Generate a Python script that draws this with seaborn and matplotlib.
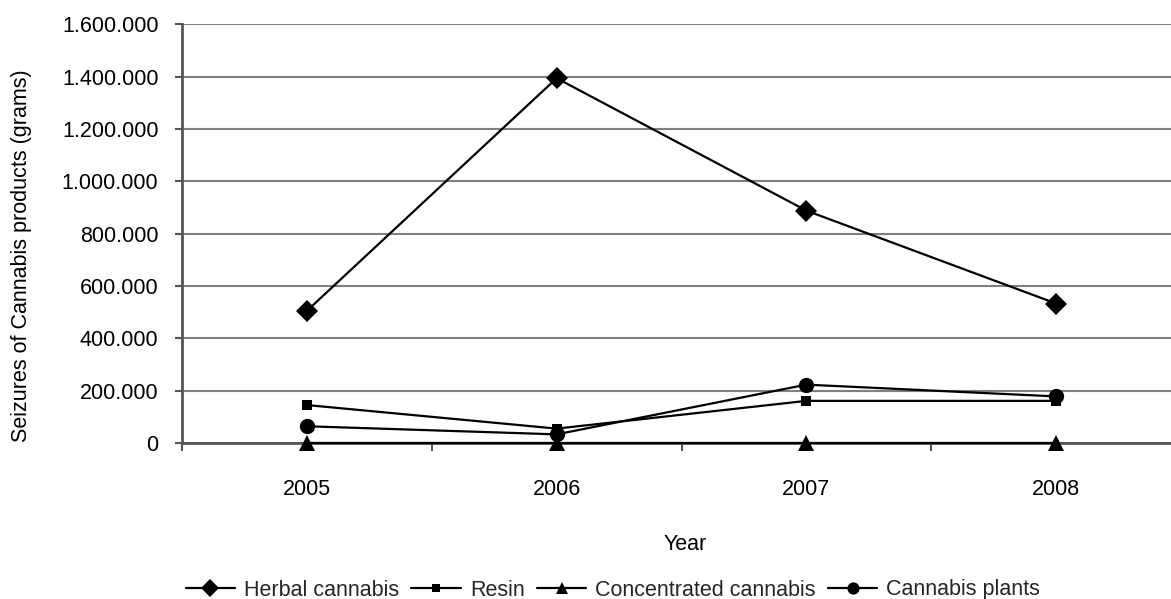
import matplotlib
matplotlib.use("Agg")
import matplotlib.pyplot as plt
import matplotlib.ticker as mticker
import seaborn as sns
import pandas as pd

# Seizures of cannabis products by year (grams)
years = [2005, 2006, 2007, 2008]
herbal_cannabis = [505000, 1394000, 888000, 533000]
resin = [145000, 55000, 161000, 161000]
concentrated_cannabis = [1000, 1000, 1000, 1000]
cannabis_plants = [64000, 33000, 223000, 178000]

series_names = ["Herbal cannabis", "Resin", "Concentrated cannabis", "Cannabis plants"]
series_values = [herbal_cannabis, resin, concentrated_cannabis, cannabis_plants]
y_ticks = [0, 200000, 400000, 600000, 800000, 1000000, 1200000, 1400000, 1600000]

df = pd.DataFrame(
    [(y, name, v) for name, vals in zip(series_names, series_values) for y, v in zip(years, vals)],
    columns=["Year", "Product", "Grams"],
)

sns.set_theme(style="white")
plt.rcParams["font.family"] = ["Liberation Sans", "DejaVu Sans"]
FS = 15.5

W, H = 1171, 599
fig = plt.figure(figsize=(W / 100, H / 100), dpi=100)
ax = fig.add_axes([182 / W, 1 - 443 / H, 999 / W, (443 - 24.3) / H])

markers = {"Herbal cannabis": "D", "Resin": "s", "Concentrated cannabis": "^", "Cannabis plants": "o"}
sizes = {"Herbal cannabis": 11.5, "Resin": 7.5, "Concentrated cannabis": 11, "Cannabis plants": 11}
palette = {n: "black" for n in series_names}

sns.lineplot(
    data=df, x="Year", y="Grams", hue="Product", style="Product",
    markers=markers, dashes=False, palette=palette, hue_order=series_names,
    style_order=series_names, linewidth=1.6, ax=ax, legend=False, zorder=3,
)
for line, name in zip(ax.get_lines(), series_names):
    line.set_markersize(sizes[name])
    line.set_markeredgewidth(0)
    line.set_clip_on(False)

ax.set_xlim(2004.5, 2008.5)
ax.set_ylim(0, 1600000)
ax.set_yticks(y_ticks)
ax.yaxis.set_major_formatter(mticker.FuncFormatter(lambda v, p: f"{v:,.0f}".replace(",", ".")))
ax.set_xticks(years)
ax.set_xticklabels([str(y) for y in years])
ax.xaxis.set_minor_locator(mticker.FixedLocator([2004.5, 2005.5, 2006.5, 2007.5, 2008.5]))

ax.grid(axis="y", color="#808080", linewidth=1.5, zorder=0)
ax.grid(axis="x", visible=False)
for s in ["top", "right"]:
    ax.spines[s].set_visible(False)
ax.spines["left"].set_color("#555555")
ax.spines["left"].set_linewidth(2)
ax.spines["bottom"].set_color("#555555")
ax.spines["bottom"].set_linewidth(2)

ax.tick_params(axis="y", which="major", length=5, width=1.5, color="#555555",
               direction="out", left=True, pad=12, labelsize=FS, labelcolor="black")
ax.tick_params(axis="x", which="major", length=0, pad=26, labelsize=FS, labelcolor="black")
ax.tick_params(axis="x", which="minor", length=6, width=1.5, color="#555555",
               direction="out", bottom=True)
ax.set_xlabel("")
ax.set_ylabel("")

fig.text(22 / W, 1 - 256 / H, "Seizures of Cannabis products (grams)", rotation=90,
         ha="center", va="center", fontsize=FS, color="black")
fig.text(685 / W, 1 - 544 / H, "Year", ha="center", va="center", fontsize=FS, color="black")

handles = [
    plt.Line2D([], [], color="black", linewidth=1.6, marker=markers[n],
               markersize=sizes[n] * 0.8, markeredgewidth=0)
    for n in series_names
]
fig.legend(handles, series_names, loc="center", bbox_to_anchor=(613 / W, 1 - 590 / H),
           ncol=4, frameon=False, fontsize=FS, handlelength=2.3, handletextpad=0.42,
           columnspacing=0.56, borderpad=0)

fig.savefig("out.png", dpi=100)
